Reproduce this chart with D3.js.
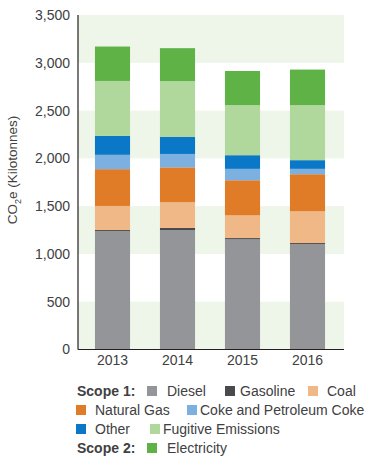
<!DOCTYPE html>
<html><head><meta charset="utf-8">
<script src="https://cdn.jsdelivr.net/npm/d3@7"></script>
<style>body{margin:0;background:#fff;} text{font-family:"Liberation Sans",Arial,sans-serif;}</style>
</head><body><svg id="c" width="387" height="466"></svg>
<script>
const years = ["2013","2014","2015","2016"];
const seriesNames = ["Diesel","Gasoline","Coal","Natural Gas","Coke and Petroleum Coke","Other","Fugitive Emissions","Electricity"];
const diesel    = [1238, 1250, 1153, 1103];
const gasoline  = [12, 22, 13, 11];
const coal      = [252, 268, 238, 332];
const naturalGas= [385, 366, 367, 388];
const coke      = [150, 140, 119, 56];
const other     = [198, 178, 143, 91];
const fugitive  = [575, 584, 524, 576];
const electricity=[360, 345, 357, 372];
const yTicks = [0,500,1000,1500,2000,2500,3000,3500];
const colors = ["#949598","#4a4a4c","#f1b887","#e07c27","#7bb0e0","#0a78c6","#b0d79c","#5eb246"];

const seriesValues = [diesel,gasoline,coal,naturalGas,coke,other,fugitive,electricity];
const rows = years.map((y,i)=>{const o={year:y}; seriesNames.forEach((s,j)=>o[s]=seriesValues[j][i]); return o;});
const stacked = d3.stack().keys(seriesNames)(rows);

const svg = d3.select("#c");
const x0=78, x1=344, yTop=15, yBot=349.5;
const y = d3.scaleLinear().domain([0,3500]).range([yBot,yTop]);
const x = d3.scaleBand().domain(years).range([80,340]).paddingInner(0.46).paddingOuter(0.23);

// background bands
for(let i=0;i<yTicks.length-1;i++){
  if(i%2===0){
    svg.append("rect").attr("x",x0).attr("width",x1-x0)
      .attr("y",y(yTicks[i+1])).attr("height",y(yTicks[i])-y(yTicks[i+1]))
      .attr("fill","#eef5e9");
  }
}
// top band 3000-3500 also green (i=6 even) handled.

// bars
svg.append("g").selectAll("g").data(stacked).join("g")
  .attr("fill",(d,i)=>colors[i])
  .selectAll("rect").data(d=>d).join("rect")
  .attr("x",d=>x(d.data.year)).attr("width",x.bandwidth())
  .attr("y",d=>y(d[1])).attr("height",d=>y(d[0])-y(d[1]));

// axes
const ya = svg.append("g").attr("transform",`translate(${x0},0)`)
  .call(d3.axisLeft(y).tickValues(yTicks).tickSize(0).tickPadding(8).tickFormat(d3.format(",")));
ya.select(".domain").attr("stroke","#231f20").attr("stroke-width",1.2).attr("d",`M0,${yTop}V${yBot}`);
ya.selectAll("text").attr("font-size",14).attr("fill","#414042").attr("font-family","Liberation Sans, Arial, sans-serif");

const xa = svg.append("g").attr("transform",`translate(0,${yBot})`)
  .call(d3.axisBottom(x).tickSize(0).tickPadding(6));
xa.select(".domain").attr("stroke","#231f20").attr("stroke-width",1.2).attr("d",`M${x0},0H${x1}`);
xa.selectAll("text").attr("font-size",14).attr("fill","#414042").attr("font-family","Liberation Sans, Arial, sans-serif");

// y label
const yl = svg.append("text").attr("transform","translate(17,170) rotate(-90)")
  .attr("text-anchor","middle").attr("font-size",13.5).attr("fill","#414042");
yl.append("tspan").text("CO");
yl.append("tspan").text("2").attr("font-size",9).attr("dy",4);
yl.append("tspan").text("e (Kilotonnes)").attr("dy",-4);

// legend
const legendRows = [
  {y:396, label:"Scope 1:", items:[[0,147,167],[1,225,240],[2,308,327]]},
  {y:415, label:null, items:[[3,76,95],[4,187,200]]},
  {y:434, label:null, items:[[5,76,95],[6,150,163]]},
  {y:453, label:"Scope 2:", items:[[7,147,167]]}
];
const lg = svg.append("g");
legendRows.forEach(r=>{
  if(r.label) lg.append("text").attr("x",77).attr("y",r.y).attr("font-size",14).attr("font-weight","bold").attr("fill","#414042").text(r.label);
  r.items.forEach(([k,sx,tx])=>{
    lg.append("rect").attr("x",sx).attr("y",r.y-10).attr("width",10).attr("height",10).attr("fill",colors[k]);
    lg.append("text").attr("x",tx).attr("y",r.y).attr("font-size",14).attr("fill","#414042").text(seriesNames[k]);
  });
});
</script></body></html>
